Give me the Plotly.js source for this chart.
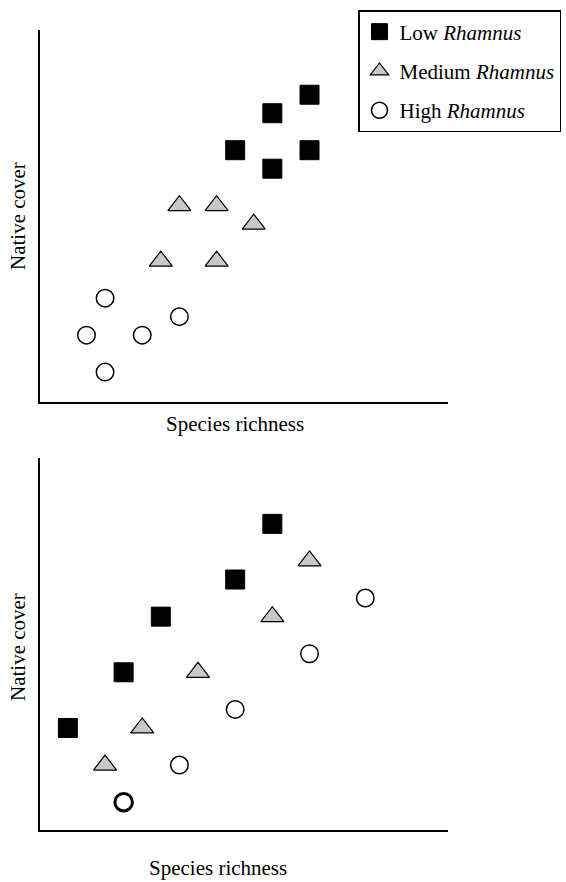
<!DOCTYPE html>
<html>
<head>
<meta charset="utf-8">
<script src="https://cdn.plot.ly/plotly-3.0.1.min.js"></script>
<style>html,body{margin:0;padding:0;background:#fff;}#chart{width:566px;height:882px;}</style>
</head>
<body>
<div id="chart"></div>
<script>
// Top panel
var lowX1 = [14, 12, 10, 14, 12];
var lowY1 = [16, 15, 13, 13, 12];
var medX1 = [7, 9, 11, 6, 9];
var medY1 = [10, 10, 9, 7, 7];
var highX1 = [3, 2, 5, 7, 3];
var highY1 = [5, 3, 3, 4, 1];
// Bottom panel
var lowX2 = [1, 4, 6, 10, 12];
var lowY2 = [5, 8, 11, 13, 16];
var medX2 = [3, 5, 8, 12, 14];
var medY2 = [3, 5, 8, 11, 14];
var highX2 = [4, 7, 10, 14, 17];
var highY2 = [1, 3, 6, 9, 12];
var highLine2 = [3, 1.5, 1.5, 1.5, 1.5];

var seriesNames = ['Low <i>Rhamnus</i>', 'Medium <i>Rhamnus</i>', 'High <i>Rhamnus</i>'];
var xTitle = 'Species richness';
var yTitle = 'Native cover';

var FONT = 'Liberation Serif';

function sq(x, y, xa, ya, show) {
  return {x: x, y: y, xaxis: xa, yaxis: ya, type: 'scatter', mode: 'markers',
    name: seriesNames[0], legendgroup: 'low', showlegend: show, hoverinfo: 'skip',
    marker: {symbol: 'square', size: 19, color: '#000', line: {color: '#000', width: 1}}};
}
function tri(x, y, xa, ya, show) {
  return {x: x, y: y, xaxis: xa, yaxis: ya, type: 'scatter', mode: 'markers',
    name: seriesNames[1], legendgroup: 'med', showlegend: show, hoverinfo: 'skip',
    marker: {symbol: 'triangle-up', size: 20, color: '#c8c8c8', line: {color: '#000', width: 1.2}}};
}
function circ(x, y, xa, ya, show, lw) {
  return {x: x, y: y, xaxis: xa, yaxis: ya, type: 'scatter', mode: 'markers',
    name: seriesNames[2], legendgroup: 'high', showlegend: show, hoverinfo: 'skip',
    marker: {symbol: 'circle', size: 17.5, color: '#fff', line: {color: '#000', width: lw}}};
}

var data = [
  sq(lowX1, lowY1, 'x', 'y', true),
  tri(medX1, medY1, 'x', 'y', true),
  circ(highX1, highY1, 'x', 'y', true, 1.5),
  sq(lowX2, lowY2, 'x2', 'y2', false),
  tri(medX2, medY2, 'x2', 'y2', false),
  circ(highX2, highY2, 'x2', 'y2', false, highLine2)
];

function ax(domain, range, anchor) {
  return {domain: domain, range: range, anchor: anchor, showline: true, linecolor: '#000', linewidth: 2,
    showgrid: false, zeroline: false, showticklabels: false, ticks: '', fixedrange: true};
}

var W = 566, H = 882;
function px(v) { return v / W; }
function py(v) { return (H - v) / H; }

var layout = {
  width: W, height: H,
  margin: {l: 0, r: 0, t: 0, b: 0},
  paper_bgcolor: '#fff', plot_bgcolor: '#fff',
  font: {family: FONT, size: 21, color: '#000'},
  showlegend: true,
  legend: {x: px(358), y: py(10), xanchor: 'left', yanchor: 'top',
    bordercolor: '#000', borderwidth: 1.5, bgcolor: '#fff',
    font: {family: FONT, size: 21, color: '#000'}, traceorder: 'grouped', tracegroupgap: 9},
  xaxis: ax([px(40), px(448)], [-0.5, 21.45], 'y'),
  yaxis: ax([py(401.7), py(30)], [-0.6, 19.5], 'x'),
  xaxis2: ax([px(40), px(448)], [-0.5, 21.45], 'y2'),
  yaxis2: ax([py(830), py(458)], [-0.5, 19.55], 'x2'),
  annotations: [
    {text: xTitle, xref: 'paper', yref: 'paper', x: px(234.5), y: py(424), xanchor: 'center', yanchor: 'middle', showarrow: false, font: {family: FONT, size: 21, color: '#000'}},
    {text: xTitle, xref: 'paper', yref: 'paper', x: px(217.5), y: py(868), xanchor: 'center', yanchor: 'middle', showarrow: false, font: {family: FONT, size: 21, color: '#000'}},
    {text: yTitle, xref: 'paper', yref: 'paper', x: px(18), y: py(216), xanchor: 'center', yanchor: 'middle', textangle: -90, showarrow: false, font: {family: FONT, size: 21, color: '#000'}},
    {text: yTitle, xref: 'paper', yref: 'paper', x: px(18), y: py(647), xanchor: 'center', yanchor: 'middle', textangle: -90, showarrow: false, font: {family: FONT, size: 21, color: '#000'}}
  ]
};

Plotly.newPlot('chart', data, layout, {displayModeBar: false, staticPlot: true});
</script>
</body>
</html>
